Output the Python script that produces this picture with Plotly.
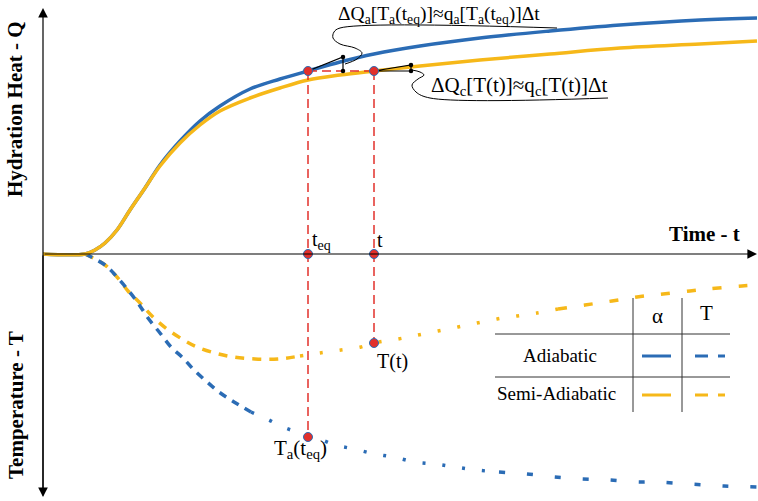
import plotly.graph_objects as go

# ---- data (in picture coordinates) ----
BLUE = "#2b6cb5"
YELLOW = "#f6b819"
RED = "#e2302b"

q_adiab_x = [43, 85, 95, 105, 117, 130, 145, 160, 180, 200, 220, 250, 280, 308, 340, 374, 420, 480, 550, 620, 700, 757]
q_adiab_y = [254, 254, 250, 243, 230, 210, 188, 165, 141, 121, 106, 89, 79, 71, 62, 54, 46, 38, 31, 25, 20, 18]
q_semi_x = [43, 85, 95, 105, 117, 130, 145, 160, 180, 200, 220, 250, 280, 308, 340, 374, 420, 480, 550, 620, 700, 757]
q_semi_y = [254, 254, 250, 243, 230, 210, 188, 166, 143, 125, 111, 98, 88, 80, 75, 71, 66, 60, 54, 48, 44, 41]

t_semi_x = [85, 105, 117, 128, 140, 153, 167, 182, 197, 215, 233, 255, 278, 300, 320, 341, 361, 374, 398, 418, 438, 458, 477, 497, 517, 537, 558, 585, 612, 637, 663, 690, 708, 742, 757]
t_semi_y = [254, 265, 277, 291, 303, 317, 329, 339, 347, 353, 357, 359, 359, 356, 353, 350, 347, 343, 339, 335, 331, 327, 323, 319, 316, 313, 309, 305, 301, 297, 294, 291, 289, 286, 285]
t_adiab_x = [85, 105, 117, 128, 138, 148, 160, 171, 183, 193, 206, 219, 234, 251, 267, 283, 299, 308, 317, 335, 354, 375, 393, 415, 435, 455, 476, 499, 527, 554, 582, 609, 637, 655, 689, 724, 757]
t_adiab_y = [254, 265, 277, 290, 303, 318, 333, 347, 358, 369, 381, 392, 402, 412, 419, 427, 433, 437, 438, 445, 449, 454, 457, 462, 464, 467, 470, 472, 474, 477, 479, 480, 482, 482, 484, 486, 487]

t_eq, t_now = 308, 374
y_axis0 = 254
q_a_teq, q_c_t = 71, 71
T_t, T_a_teq = 343, 437

def seg(xs, ys, a, b):
    px, py = [], []
    for x, y in zip(xs, ys):
        if a <= x <= b:
            px.append(x); py.append(y)
    return px, py

fig = go.Figure()
serif = "Liberation Serif"

# temperature curves (dashed -> dotted -> dashed)
for xs, ys, col, cuts in [
    (t_semi_x, t_semi_y, YELLOW, [(85, 300, "9px,8px"), (300, 558, "3px,17px"), (558, 757, "9px,17px")]),
    (t_adiab_x, t_adiab_y, BLUE, [(85, 251, "8px,7px"), (251, 499, "3px,17px"), (499, 757, "6px,22px")]),
]:
    for a, b, d in cuts:
        px, py = seg(xs, ys, a, b)
        fig.add_trace(go.Scatter(x=px, y=py, mode="lines", line=dict(color=col, width=3.5, dash=d, shape="spline"), hoverinfo="skip"))

# heat curves
fig.add_trace(go.Scatter(x=q_adiab_x, y=q_adiab_y, mode="lines", line=dict(color=BLUE, width=3.5, shape="spline"), hoverinfo="skip"))
fig.add_trace(go.Scatter(x=q_semi_x, y=q_semi_y, mode="lines", line=dict(color=YELLOW, width=3.5, shape="spline"), hoverinfo="skip"))

# axes (drawn as arrows)
fig.add_annotation(x=43, y=8, ax=43, ay=497, xref="x", yref="y", axref="x", ayref="y",
                   showarrow=True, arrowhead=2, arrowsize=1.6, arrowwidth=1.2, arrowcolor="black", text="")
fig.add_annotation(x=43, y=497, ax=43, ay=254, xref="x", yref="y", axref="x", ayref="y",
                   showarrow=True, arrowhead=2, arrowsize=1.6, arrowwidth=1.2, arrowcolor="black", text="")
fig.add_annotation(x=757, y=254, ax=43, ay=254, xref="x", yref="y", axref="x", ayref="y",
                   showarrow=True, arrowhead=2, arrowsize=1.6, arrowwidth=1.2, arrowcolor="black", text="")

# red construction lines
fig.add_trace(go.Scatter(x=[t_eq, t_eq], y=[q_a_teq, T_a_teq], mode="lines", line=dict(color=RED, width=1.5, dash="9px,5px"), hoverinfo="skip"))
fig.add_trace(go.Scatter(x=[t_now, t_now], y=[q_c_t, T_t], mode="lines", line=dict(color=RED, width=1.5, dash="9px,5px"), hoverinfo="skip"))
fig.add_trace(go.Scatter(x=[t_eq, t_now], y=[q_a_teq, q_c_t], mode="lines", line=dict(color=RED, width=1.5, dash="9px,5px"), hoverinfo="skip"))

# tangent triangles
tri_a_x = [t_eq, 343, 343]
tri_a_y = [q_a_teq, 57, 71]
tri_c_x = [t_now, 411, 411, t_now]
tri_c_y = [q_c_t, 65, 71, q_c_t]
fig.add_trace(go.Scatter(x=tri_a_x, y=tri_a_y, mode="lines", line=dict(color="black", width=1.2), hoverinfo="skip"))
fig.add_trace(go.Scatter(x=tri_c_x, y=tri_c_y, mode="lines", line=dict(color="black", width=1.2), hoverinfo="skip"))
fig.add_trace(go.Scatter(x=[343, 343, 411, 411], y=[57, 71, 65, 71], mode="markers", marker=dict(color="black", size=4.5), hoverinfo="skip"))

# callout squiggles + underlines
sq_a_x = [557, 340, 334, 333, 340, 355, 362, 357, 345]
sq_a_y = [28, 28, 32, 38, 44, 48, 53, 59, 64]
sq_c_x = [608, 430, 416, 412, 418, 424, 420, 412]
sq_c_y = [98, 98, 92, 85, 79, 75, 72, 70]
fig.add_trace(go.Scatter(x=sq_a_x, y=sq_a_y, mode="lines", line=dict(color="black", width=1, shape="spline"), hoverinfo="skip"))
fig.add_trace(go.Scatter(x=sq_c_x, y=sq_c_y, mode="lines", line=dict(color="black", width=1, shape="spline"), hoverinfo="skip"))

# red points
pts_x = [t_eq, t_now, t_eq, t_now, t_now, t_eq]
pts_y = [q_a_teq, q_c_t, y_axis0, y_axis0, T_t, T_a_teq]
fig.add_trace(go.Scatter(x=pts_x, y=pts_y, mode="markers",
                         marker=dict(color=RED, size=9, line=dict(color=BLUE, width=1)), hoverinfo="skip"))

# legend table
tbl_v_x = [633, 682]
tbl_h_y = [334, 377]
for vx in tbl_v_x:
    fig.add_trace(go.Scatter(x=[vx, vx], y=[298, 412], mode="lines", line=dict(color="#333333", width=1), hoverinfo="skip"))
for hy in tbl_h_y:
    fig.add_trace(go.Scatter(x=[495, 730], y=[hy, hy], mode="lines", line=dict(color="#333333", width=1), hoverinfo="skip"))
for ly, col in [(356, BLUE), (395, YELLOW)]:
    fig.add_trace(go.Scatter(x=[642, 671], y=[ly, ly], mode="lines", line=dict(color=col, width=3), hoverinfo="skip"))
    fig.add_trace(go.Scatter(x=[695, 725], y=[ly, ly], mode="lines", line=dict(color=col, width=3, dash="13px,10px"), hoverinfo="skip"))

def txt(x, y, s, size=18, anchor="center", bold=False, angle=0):
    if bold:
        s = "<b>" + s + "</b>"
    fig.add_annotation(x=x, y=y, xref="x", yref="y", text=s, showarrow=False, xanchor=anchor, yanchor="middle",
                       textangle=angle, font=dict(family=serif, size=size, color="black"))

txt(15, 109, "Hydration Heat - Q", 21, bold=True, angle=-90)
txt(16, 405, "Temperature - T", 21, bold=True, angle=-90)
txt(704, 234, "Time - t", 21, bold=True)
txt(310, 240, "t<sub>eq</sub>", 20, anchor="left")
txt(375, 240, "t", 20, anchor="left")
txt(375, 361, "T(t)", 20, anchor="left")
txt(272, 449, "T<sub>a</sub>(t<sub>eq</sub>)", 21, anchor="left")
txt(336, 15, "ΔQ<sub>a</sub>[T<sub>a</sub>(t<sub>eq</sub>)]≈q<sub>a</sub>[T<sub>a</sub>(t<sub>eq</sub>)]Δt", 19.5, anchor="left")
txt(429, 86, "ΔQ<sub>c</sub>[T(t)]≈q<sub>c</sub>[T(t)]Δt", 21, anchor="left")
txt(657, 316, "α", 21)
txt(706, 313, "T", 21)
txt(560, 355, "Adiabatic", 19)
txt(556, 393, "Semi-Adiabatic", 19)

fig.update_layout(
    width=758, height=501, margin=dict(l=0, r=0, t=0, b=0),
    font=dict(family=serif),
    paper_bgcolor="white", plot_bgcolor="white", showlegend=False,
    xaxis=dict(range=[0, 758], visible=False, fixedrange=True),
    yaxis=dict(range=[501, 0], visible=False, fixedrange=True),
)
fig.write_html("out.html", post_script="document.body.style.margin='0px';",
               config={"displayModeBar": False})
